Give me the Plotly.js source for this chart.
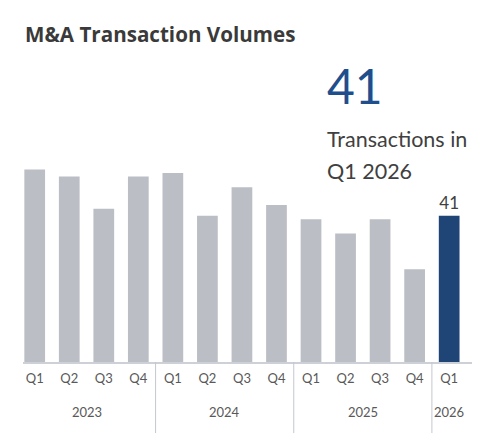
<!DOCTYPE html>
<html>
<head>
<meta charset="utf-8">
<script src="https://cdn.plot.ly/plotly-3.0.1.min.js"></script>
<style>
  html, body { margin: 0; padding: 0; background: #fff; }
  #chart { width: 500px; height: 445px; }
</style>
</head>
<body>
<div id="chart"></div>
<script>
/* M&A transaction volumes by quarter */

const YEARS    = ['2023', '2023', '2023', '2023', '2024', '2024', '2024', '2024',
                  '2025', '2025', '2025', '2025', '2026'];
const QUARTERS = ['Q1', 'Q2', 'Q3', 'Q4', 'Q1', 'Q2', 'Q3', 'Q4',
                  'Q1', 'Q2', 'Q3', 'Q4', 'Q1'];
const VOLUMES  = [54, 52, 43, 52, 53, 41, 49, 44, 40, 36, 40, 26, 41];

const LATEST_LABEL = 'Q1 2026';

const GREY = '#bbbec5';
const NAVY = '#1f4577';
const TEXT = '#404040';
const FONT = 'Lato, "Open Sans", sans-serif';

const last = VOLUMES.length - 1;
const xs = VOLUMES.map((v, i) => i);
const colors = VOLUMES.map((v, i) => (i === last ? NAVY : GREY));
const labels = VOLUMES.map((v, i) => (i === last ? String(v) : ''));

// year groups: first/last index of each year
const groups = [];
YEARS.forEach((y, i) => {
  const g = groups[groups.length - 1];
  if (g && g.year === y) g.end = i;
  else groups.push({ year: y, start: i, end: i });
});

const yearLabels = groups.map(g => ({
  xref: 'x', yref: 'paper', x: (g.start + g.end) / 2, y: -0.232,
  xanchor: 'center', yanchor: 'middle', showarrow: false,
  text: g.year, font: { family: FONT, size: 13, color: '#595959' },
}));

const dividers = groups.slice(1).map(g => ({
  type: 'line', xref: 'x', yref: 'paper',
  x0: g.start - 0.5, x1: g.start - 0.5, y0: 0, y1: -0.332,
  line: { color: '#c4c7ce', width: 1 },
}));

const trace = {
  type: 'bar',
  x: xs,
  y: VOLUMES,
  marker: { color: colors },
  text: labels,
  textposition: 'outside',
  textfont: { family: FONT, size: 17, color: TEXT },
  cliponaxis: false,
  hoverinfo: 'y',
};

const layout = {
  width: 500,
  height: 445,
  paper_bgcolor: '#fff',
  plot_bgcolor: '#fff',
  font: { family: FONT, color: '#595959', size: 13 },
  margin: { l: 23, r: 28, t: 148, b: 83 },
  bargap: 0.4,
  showlegend: false,
  title: {
    text: '<b>M&A Transaction Volumes</b>',
    font: { family: '"Open Sans", sans-serif', size: 20.6, color: '#3a3a3a' },
    x: 25 / 500, xanchor: 'left',
    y: 1 - 35 / 445, yanchor: 'middle',
  },
  xaxis: {
    type: 'linear',
    range: [-0.339, last + 0.661],
    tickmode: 'array', tickvals: xs, ticktext: QUARTERS,
    showline: true, linecolor: '#cdd0d7', linewidth: 1.5,
    showgrid: false, zeroline: false, ticks: '',
    ticklabelstandoff: 4,
    tickfont: { size: 13, color: '#595959' },
  },
  yaxis: {
    range: [0, 60], visible: false, showgrid: false, zeroline: false,
  },
  shapes: dividers,
  annotations: yearLabels.concat([
    {
      xref: 'paper', yref: 'paper', x: (325 - 23) / 449, y: (362 - 85) / 214,
      xanchor: 'left', yanchor: 'middle', showarrow: false,
      text: String(VOLUMES[last]),
      font: { family: FONT, size: 48, color: '#1f4e8c' },
    },
    {
      xref: 'paper', yref: 'paper', x: (325 - 23) / 449, y: (362 - 139) / 214,
      xanchor: 'left', yanchor: 'middle', showarrow: false,
      text: 'Transactions in',
      font: { family: FONT, size: 21.5, color: TEXT },
    },
    {
      xref: 'paper', yref: 'paper', x: (325 - 23) / 449, y: (362 - 171) / 214,
      xanchor: 'left', yanchor: 'middle', showarrow: false,
      text: LATEST_LABEL,
      font: { family: FONT, size: 21.5, color: TEXT },
    },
  ]),
};

Plotly.newPlot('chart', [trace], layout, { displayModeBar: false, staticPlot: true });
</script>
</body>
</html>
